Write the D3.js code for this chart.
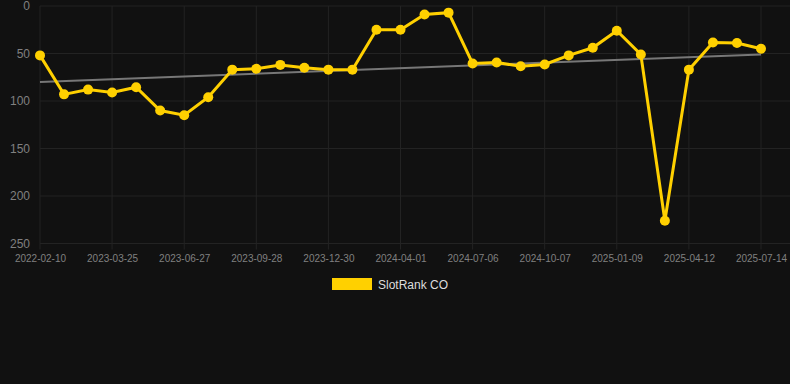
<!DOCTYPE html>
<html>
<head>
<meta charset="utf-8">
<script src="https://cdn.jsdelivr.net/npm/d3@7/dist/d3.min.js"></script>
<style>
  html, body { margin: 0; padding: 0; background: #111111; }
  svg { display: block; font-family: "Liberation Sans", Arial, sans-serif; }
</style>
</head>
<body>
<svg id="chart" width="790" height="384"></svg>
<script>
// ---- data ----
const dates = [
  "2022-02-10", "2022-06-15", "2022-11-20",
  "2023-03-25", "2023-04-26", "2023-05-27",
  "2023-06-27", "2023-07-28", "2023-08-28",
  "2023-09-28", "2023-10-29", "2023-11-29",
  "2023-12-30", "2024-01-30", "2024-03-01",
  "2024-04-01", "2024-05-04", "2024-06-04",
  "2024-07-06", "2024-08-06", "2024-09-06",
  "2024-10-07", "2024-11-07", "2024-12-08",
  "2025-01-09", "2025-02-09", "2025-03-12",
  "2025-04-12", "2025-05-13", "2025-06-13",
  "2025-07-14"
];
const rankValues = [
  52, 93, 88, 91, 85.5, 110, 115, 96, 67, 66, 62,
  65, 67, 67, 25, 25, 9, 7, 60.5, 59.5, 63.5, 61.5,
  52, 44, 26, 51, 226, 67, 38.5, 39, 45
];
const trendValues = [80, 51];           // trend line at first and last date
const yTicks = [0, 50, 100, 150, 200, 250];
const tickEvery = 3;
const seriesName = "SlotRank CO";

// ---- layout ----
const svg = d3.select("#chart");
const padL = 40, padR = 761, padT = 6, padB = 243.5;

const x = d3.scalePoint().domain(dates).range([padL, padR]);
const y = d3.scaleLinear().domain([0, 250]).range([padT, padB]);

const tickDates = dates.filter((d, i) => i % tickEvery === 0);

// horizontal grid
svg.append("g").selectAll("line").data(yTicks).join("line")
  .attr("x1", padL).attr("x2", 790)
  .attr("y1", d => y(d)).attr("y2", d => y(d))
  .attr("stroke", "#232323").attr("stroke-width", 1);

// vertical grid
svg.append("g").selectAll("line").data(tickDates).join("line")
  .attr("x1", d => x(d)).attr("x2", d => x(d))
  .attr("y1", padT).attr("y2", padB + 6)
  .attr("stroke", "#232323").attr("stroke-width", 1);

// y axis
const yAxis = d3.axisLeft(y).tickValues(yTicks).tickSize(0).tickPadding(10);
const gy = svg.append("g").attr("transform", `translate(${padL},0)`).call(yAxis);
gy.select(".domain").remove();
gy.selectAll("text").attr("fill", "#808080").attr("font-size", 12)
  .attr("font-family", "Liberation Sans, Arial, sans-serif");

// x axis
const xAxis = d3.axisBottom(x).tickValues(tickDates).tickSize(0).tickPadding(11);
const gx = svg.append("g").attr("transform", `translate(0,${padB})`).call(xAxis);
gx.select(".domain").remove();
gx.selectAll("text").attr("fill", "#808080").attr("font-size", 10)
  .attr("font-family", "Liberation Sans, Arial, sans-serif");

// trend line
svg.append("line")
  .attr("x1", x(dates[0])).attr("y1", y(trendValues[0]))
  .attr("x2", x(dates[dates.length - 1])).attr("y2", y(trendValues[1]))
  .attr("stroke", "#777777").attr("stroke-width", 2);

// series line
const line = d3.line().x((d, i) => x(dates[i])).y(d => y(d));
svg.append("path").datum(rankValues)
  .attr("d", line)
  .attr("fill", "none")
  .attr("stroke", "#FFD000")
  .attr("stroke-width", 3)
  .attr("stroke-linejoin", "miter");

// points
svg.append("g").selectAll("circle").data(rankValues).join("circle")
  .attr("cx", (d, i) => x(dates[i]))
  .attr("cy", d => y(d))
  .attr("r", 5)
  .attr("fill", "#FFD000");

// legend
const lg = svg.append("g");
lg.append("rect").attr("x", 332).attr("y", 278).attr("width", 40).attr("height", 12)
  .attr("fill", "#FFD000");
lg.append("text").attr("x", 378).attr("y", 289).text(seriesName)
  .attr("fill", "#dddddd").attr("font-size", 12)
  .attr("font-family", "Liberation Sans, Arial, sans-serif");
</script>
</body>
</html>
